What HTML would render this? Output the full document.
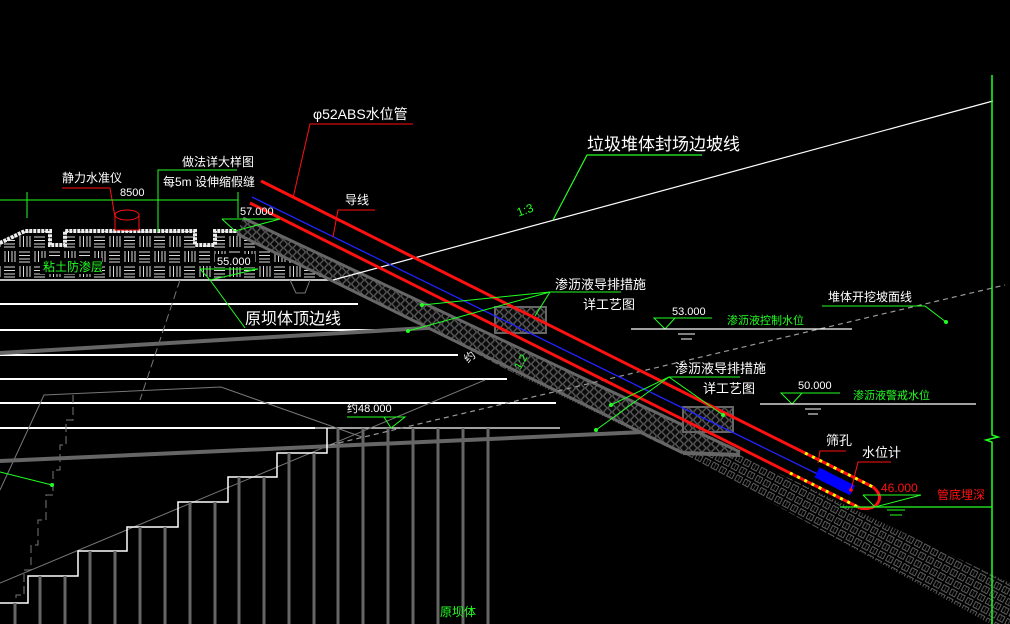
<!DOCTYPE html>
<html><head><meta charset="utf-8"><style>
html,body{margin:0;padding:0;background:#000;}
svg{display:block;}
text{font-family:"Liberation Sans","Noto Sans CJK SC",sans-serif;}
</style></head><body>
<svg width="1010" height="624" viewBox="0 0 1010 624" xmlns="http://www.w3.org/2000/svg">
<defs>
<pattern id="hex" width="9" height="8" patternUnits="userSpaceOnUse">
<rect width="9" height="8" fill="#0a0a0a"/>
<circle cx="4.5" cy="4" r="3.3" fill="none" stroke="#5a5a5a" stroke-width="0.9"/>
<circle cx="0" cy="0" r="3.3" fill="none" stroke="#5a5a5a" stroke-width="0.9"/>
<circle cx="9" cy="0" r="3.3" fill="none" stroke="#5a5a5a" stroke-width="0.9"/>
<circle cx="0" cy="8" r="3.3" fill="none" stroke="#5a5a5a" stroke-width="0.9"/>
<circle cx="9" cy="8" r="3.3" fill="none" stroke="#5a5a5a" stroke-width="0.9"/>
</pattern>
<pattern id="hatch" width="9" height="9" patternUnits="userSpaceOnUse" patternTransform="rotate(28)">
<rect x="1" y="1" width="6" height="6" fill="none" stroke="#666" stroke-width="0.9"/>
<line x1="4" y1="1" x2="4" y2="7" stroke="#555" stroke-width="0.7"/>
</pattern>
<pattern id="clay" width="30" height="30" patternUnits="userSpaceOnUse" x="2" y="234">
<g stroke="#ddd" stroke-width="1">
<line x1="2" y1="3" x2="13" y2="3"/><line x1="2" y1="6.5" x2="13" y2="6.5"/><line x1="2" y1="10" x2="13" y2="10"/><line x1="2" y1="13" x2="13" y2="13"/>
<line x1="18" y1="2" x2="18" y2="13"/><line x1="21.5" y1="2" x2="21.5" y2="13"/><line x1="25" y1="2" x2="25" y2="13"/><line x1="28" y1="2" x2="28" y2="13"/>
<line x1="3" y1="17" x2="3" y2="28"/><line x1="6.5" y1="17" x2="6.5" y2="28"/><line x1="10" y1="17" x2="10" y2="28"/><line x1="13" y1="17" x2="13" y2="28"/>
<line x1="17" y1="18" x2="28" y2="18"/><line x1="17" y1="21.5" x2="28" y2="21.5"/><line x1="17" y1="25" x2="28" y2="25"/><line x1="17" y1="28" x2="28" y2="28"/>
</g>
</pattern>
</defs>

<!-- clay layer -->
<polygon points="0,243 25,231 50,231 50,245 65,245 65,231 195,231 195,245 215,245 215,231 237,231 330,280 0,280" fill="url(#clay)"/>
<polyline points="0,243 25,231 50,231 50,245 65,245 65,231 195,231 195,245 215,245 215,231 237,231" fill="none" stroke="#eee" stroke-width="4" stroke-dasharray="3,1"/>
<line x1="0" y1="280" x2="335" y2="280" stroke="#fff" stroke-width="1.5"/>
<polyline points="290,280 296,293 305,293 310,280" fill="none" stroke="#777" stroke-width="1"/>
<rect x="40" y="258" width="62" height="16" fill="#000"/>
<text x="43" y="271" font-size="12" fill="#2f2">粘土防渗层</text>

<!-- hatched soil below band -->
<polygon points="470,335 683,438 740,455 1010,583 1010,624 990,624 700,463 470,352" fill="url(#hatch)"/>

<!-- horizontal white lines -->
<g stroke="#fff" stroke-width="2">
<line x1="0" y1="304" x2="358" y2="304"/>
<line x1="0" y1="330" x2="410" y2="330"/>
<line x1="0" y1="355" x2="458" y2="355"/>
<line x1="0" y1="379" x2="507" y2="379"/>
<line x1="0" y1="403" x2="556" y2="403"/>
<line x1="0" y1="428" x2="315" y2="428"/>
</g>
<line x1="315" y1="428" x2="560" y2="428" stroke="#fff" stroke-width="1.2"/>

<!-- thin gray lines -->
<g stroke="#777" stroke-width="1" fill="none">
<line x1="0" y1="583" x2="485" y2="380"/>
<polyline points="0,490 44,395 221,387 362,437"/>
<polyline points="73,395 73,420 66,420 66,445 60,445 60,470 53,470 53,495 46,495 46,520 38,520 38,545 31,545 31,570 24,570 24,595 16,595 16,624" stroke-dasharray="8,4"/>
<line x1="180" y1="280" x2="140" y2="400" stroke-dasharray="8,4"/>
</g>
<!-- gray thick lines -->
<line x1="0" y1="353" x2="460" y2="326" stroke="#666" stroke-width="4"/>
<line x1="0" y1="461" x2="733" y2="428" stroke="#666" stroke-width="4"/>

<!-- stairs & bars -->
<polyline points="0,603 28,603 28,576 78,576 78,551 127,551 127,527 178,527 178,502 228,502 228,477 277,477 277,453 327,453 327,428" fill="none" stroke="#fff" stroke-width="1.5"/>
<g stroke="#666" stroke-width="3">
<line x1="15" y1="603" x2="15" y2="624"/>
<line x1="40" y1="576" x2="40" y2="624"/><line x1="65" y1="576" x2="65" y2="624"/>
<line x1="90" y1="551" x2="90" y2="624"/><line x1="115" y1="551" x2="115" y2="624"/>
<line x1="140" y1="527" x2="140" y2="624"/><line x1="165" y1="527" x2="165" y2="624"/>
<line x1="190" y1="502" x2="190" y2="624"/><line x1="215" y1="502" x2="215" y2="624"/>
<line x1="239" y1="477" x2="239" y2="624"/><line x1="264" y1="477" x2="264" y2="624"/>
<line x1="289" y1="453" x2="289" y2="624"/><line x1="314" y1="453" x2="314" y2="624"/>
<line x1="338" y1="428" x2="338" y2="624"/><line x1="363" y1="428" x2="363" y2="624"/>
<line x1="388" y1="428" x2="388" y2="624"/><line x1="413" y1="428" x2="413" y2="624"/>
<line x1="438" y1="428" x2="438" y2="624"/><line x1="463" y1="428" x2="463" y2="624"/>
<line x1="488" y1="428" x2="488" y2="624"/>
</g>
<text x="440" y="616" font-size="12" fill="#2f2">原坝体</text>
<text x="347" y="412" font-size="11" fill="#fff">约48.000</text>
<polyline points="347,417 405,417 391,428 384,417" fill="none" stroke="#2f2" stroke-width="1"/>

<!-- hex gravel band -->
<polygon points="243,218 740,450 740,455 683,453 237,234" fill="url(#hex)"/>
<line x1="243" y1="218" x2="740" y2="452" stroke="#666" stroke-width="3"/>
<line x1="237" y1="234" x2="683" y2="453" stroke="#666" stroke-width="3"/>
<line x1="683" y1="453" x2="740" y2="455" stroke="#666" stroke-width="4"/>
<rect x="495" y="307" width="51" height="26" fill="url(#hex)" stroke="#666" stroke-width="2"/>
<rect x="683" y="407" width="50" height="25" fill="url(#hex)" stroke="#666" stroke-width="2"/>
<text x="463" y="360" font-size="11" fill="#fff" transform="rotate(-40 470 355)">约</text>
<text x="512" y="368" font-size="11" fill="#2f2" transform="rotate(-60 518 362)">1:2</text>

<!-- white slope line -->
<line x1="333" y1="280" x2="993" y2="101" stroke="#fff" stroke-width="1.2"/>
<line x1="330" y1="445" x2="1005" y2="285" stroke="#999" stroke-width="1.2" stroke-dasharray="5,4"/>

<!-- pipes -->
<line x1="252" y1="197" x2="840" y2="485" stroke="#22f" stroke-width="1.3"/>
<line x1="261" y1="181" x2="873" y2="487" stroke="#f11" stroke-width="3"/>
<line x1="250" y1="203" x2="860" y2="508" stroke="#f11" stroke-width="3"/>
<path d="M873,487 Q885,497 875,506 Q868,510 860,508" fill="none" stroke="#f11" stroke-width="3"/>
<line x1="805" y1="453" x2="873" y2="487" stroke="#ff0" stroke-width="3" stroke-dasharray="3,5"/>
<line x1="790" y1="473" x2="860" y2="508" stroke="#ff0" stroke-width="3" stroke-dasharray="3,5"/>
<rect x="815" y="476" width="40" height="11" fill="#00f" transform="rotate(27 835 481)"/>

<!-- top labels -->
<text x="313" y="119" font-size="14" fill="#fff">φ52ABS水位管</text>
<polyline points="413,124 310,124 293,198" fill="none" stroke="#f11" stroke-width="1"/>
<text x="182" y="166" font-size="12" fill="#fff">做法详大样图</text>
<text x="163" y="186" font-size="12" fill="#fff">每5m 设伸缩假缝</text>
<polyline points="237,170 158,170 158,232" fill="none" stroke="#2f2" stroke-width="1"/>
<text x="62" y="182" font-size="12" fill="#fff">静力水准仪</text>
<polyline points="62,188 110,188 115,217" fill="none" stroke="#f11" stroke-width="1"/>
<rect x="115" y="215" width="24" height="15" fill="#000" stroke="#f11" stroke-width="1"/>
<ellipse cx="127" cy="215" rx="12" ry="5" fill="#000" stroke="#f11" stroke-width="1"/>
<line x1="0" y1="200" x2="238" y2="200" stroke="#2f2" stroke-width="1"/>
<line x1="27" y1="192" x2="27" y2="218" stroke="#2f2" stroke-width="1"/>
<line x1="238" y1="192" x2="238" y2="218" stroke="#2f2" stroke-width="1"/>
<text x="120" y="196" font-size="11" fill="#fff">8500</text>
<text x="240" y="215" font-size="11" fill="#fff">57.000</text>
<polyline points="222,219 280,219 235,231 222,219" fill="none" stroke="#2f2" stroke-width="1"/>
<rect x="215" y="254" width="40" height="13" fill="#000"/>
<text x="217" y="265" font-size="11" fill="#fff">55.000</text>
<polyline points="200,269 258,269 210,280 200,269" fill="none" stroke="#2f2" stroke-width="1"/>
<line x1="210" y1="280" x2="245" y2="328" stroke="#2f2" stroke-width="1"/>
<text x="245" y="324" font-size="16" fill="#fff">原坝体顶边线</text>
<text x="345" y="204" font-size="12" fill="#fff">导线</text>
<polyline points="375,210 338,210 333,237" fill="none" stroke="#f11" stroke-width="1"/>

<text x="517" y="216" font-size="12" fill="#2f2" transform="rotate(-20 520 212)">1:3</text>
<polyline points="553,220 587,155 702,155" fill="none" stroke="#2f2" stroke-width="1.2"/>
<text x="587" y="150" font-size="17" fill="#fff">垃圾堆体封场边坡线</text>

<!-- leaders -->
<text x="555" y="289" font-size="13" fill="#fff">渗沥液导排措施</text>
<text x="583" y="309" font-size="13" fill="#fff">详工艺图</text>
<g stroke="#2f2" stroke-width="1" fill="none">
<line x1="550" y1="292" x2="621" y2="292"/>
<line x1="550" y1="292" x2="422" y2="305"/>
<line x1="550" y1="292" x2="408" y2="331"/>
<line x1="550" y1="292" x2="535" y2="316"/>
<line x1="669" y1="377" x2="740" y2="377"/>
<line x1="669" y1="377" x2="611" y2="405"/>
<line x1="669" y1="377" x2="596" y2="430"/>
<line x1="669" y1="377" x2="723" y2="415"/>
</g>
<g fill="#2f2"><circle cx="422" cy="305" r="2"/><circle cx="408" cy="331" r="2"/><circle cx="611" cy="405" r="2"/><circle cx="596" cy="430" r="2"/><circle cx="723" cy="415" r="2"/><circle cx="52" cy="485" r="2"/><circle cx="946" cy="322" r="2"/></g>
<line x1="0" y1="472" x2="52" y2="485" stroke="#2f2" stroke-width="1"/>
<text x="675" y="373" font-size="13" fill="#fff">渗沥液导排措施</text>
<text x="703" y="393" font-size="13" fill="#fff">详工艺图</text>

<!-- water levels -->
<text x="672" y="315" font-size="11" fill="#fff">53.000</text>
<polyline points="712,318 654,318 665,329 675,318" fill="none" stroke="#2f2" stroke-width="1"/>
<line x1="631" y1="329" x2="852" y2="329" stroke="#fff" stroke-width="1.3"/>
<line x1="678" y1="334" x2="695" y2="334" stroke="#fff" stroke-width="1"/>
<line x1="681" y1="339" x2="692" y2="339" stroke="#fff" stroke-width="1"/>
<text x="727" y="324" font-size="11" fill="#2f2">渗沥液控制水位</text>

<text x="798" y="389" font-size="11" fill="#fff">50.000</text>
<polyline points="840,393 781,393 792,404 802,393" fill="none" stroke="#2f2" stroke-width="1"/>
<line x1="760" y1="404" x2="976" y2="404" stroke="#fff" stroke-width="1.3"/>
<line x1="805" y1="409" x2="821" y2="409" stroke="#fff" stroke-width="1"/>
<line x1="808" y1="414" x2="818" y2="414" stroke="#fff" stroke-width="1"/>
<text x="853" y="399" font-size="11" fill="#2f2">渗沥液警戒水位</text>

<text x="828" y="301" font-size="12" fill="#fff">堆体开挖坡面线</text>
<polyline points="822,306 925,306 946,322" fill="none" stroke="#2f2" stroke-width="1"/>

<!-- right side -->
<polyline points="992,75 992,435 998,437 986,440 992,442 992,624" fill="none" stroke="#2f2" stroke-width="1.5"/>
<line x1="840" y1="507" x2="992" y2="507" stroke="#2f2" stroke-width="1.3"/>
<polyline points="863,495 921,495 875,507 863,495" fill="none" stroke="#2f2" stroke-width="1"/>
<line x1="887" y1="510" x2="905" y2="510" stroke="#2f2" stroke-width="1"/>
<line x1="890" y1="515" x2="902" y2="515" stroke="#2f2" stroke-width="1"/>
<text x="881" y="492" font-size="12" fill="#f11">46.000</text>
<text x="937" y="499" font-size="12" fill="#f11">管底埋深</text>
<text x="826" y="445" font-size="13" fill="#fff">筛孔</text>
<polyline points="846,451 820,451 818,463" fill="none" stroke="#f11" stroke-width="1"/>
<text x="862" y="457" font-size="13" fill="#fff">水位计</text>
<polyline points="891,462 858,462 851,490" fill="none" stroke="#f11" stroke-width="1"/>
<circle cx="851" cy="490" r="1.8" fill="#f11"/>
</svg>
</body></html>
